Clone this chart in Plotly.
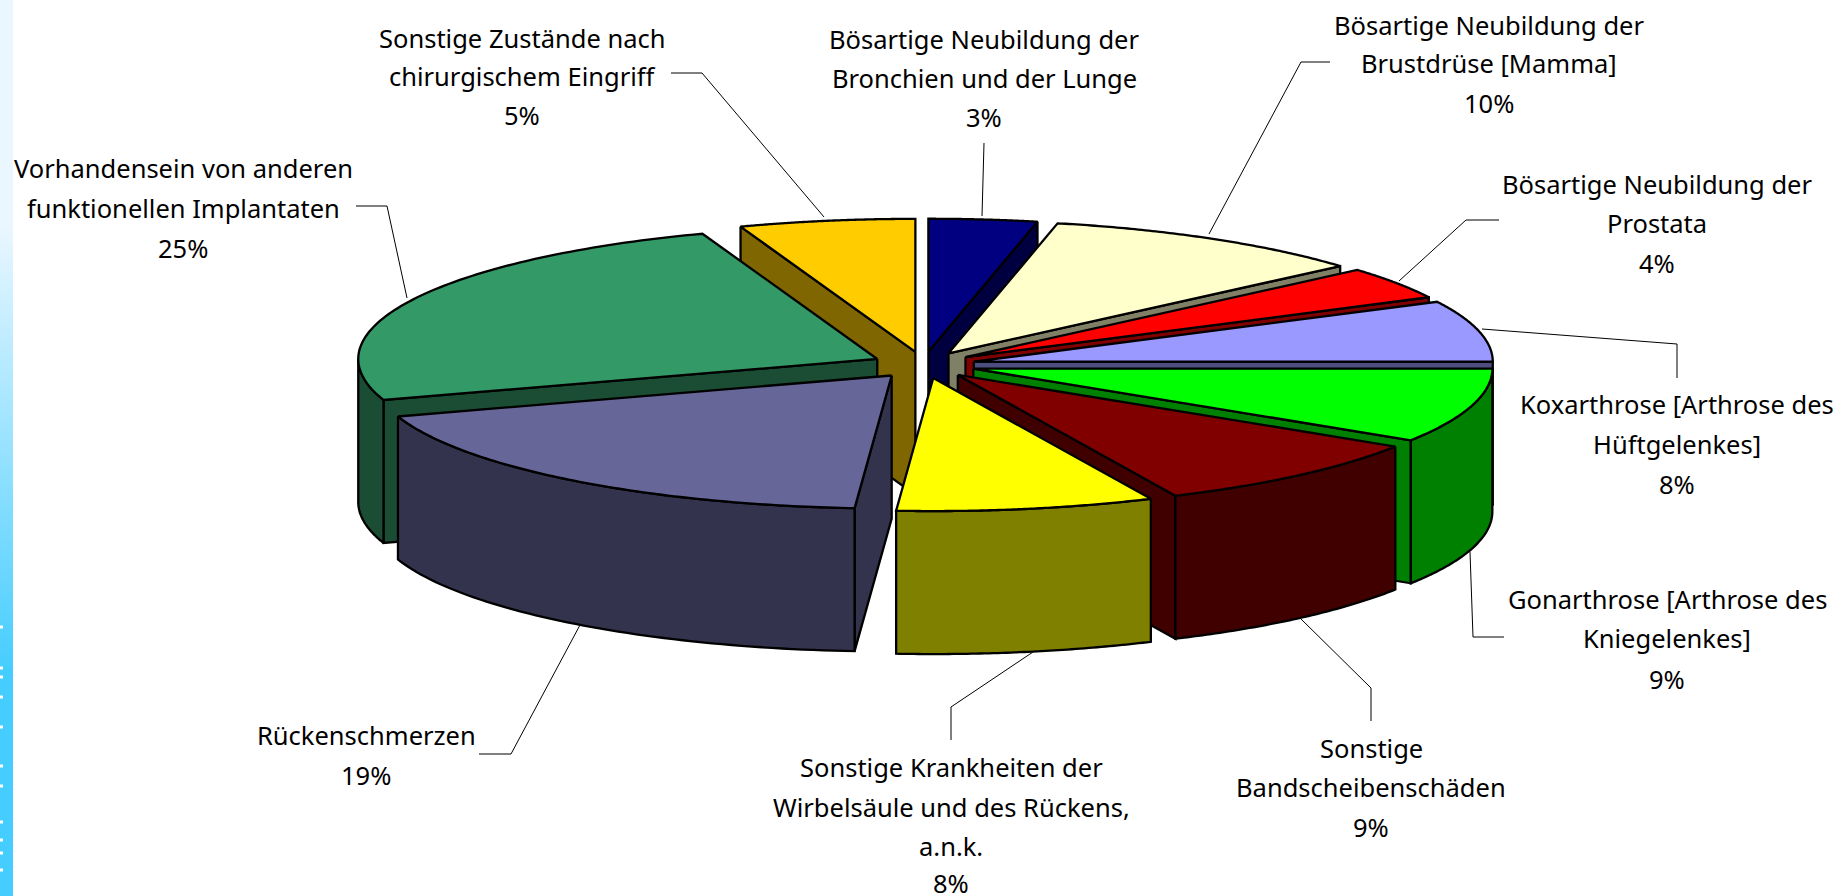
import numpy as np
import plotly.graph_objects as go

# ---- data ----
categories = ["Bösartige Neubildung der Bronchien und der Lunge",
              "Bösartige Neubildung der Brustdrüse [Mamma]",
              "Bösartige Neubildung der Prostata",
              "Koxarthrose [Arthrose des Hüftgelenkes]",
              "Gonarthrose [Arthrose des Kniegelenkes]",
              "Sonstige Bandscheibenschäden",
              "Sonstige Krankheiten der Wirbelsäule und des Rückens, a.n.k.",
              "Rückenschmerzen",
              "Vorhandensein von anderen funktionellen Implantaten",
              "Sonstige Zustände nach chirurgischem Eingriff"]
values = [3, 10, 4, 8, 9, 9, 8, 19, 25, 5]
top_colors = ["#000080", "#FFFFCC", "#FF0000", "#9999FF", "#00FF00",
              "#800000", "#FFFF00", "#666699", "#339966", "#FFCC00"]
side_colors = ["#000040", "#808066", "#800000", "#4D4D80", "#008000",
               "#400000", "#808000", "#33334D", "#1A4D33", "#806600"]
label_lines = [["Bösartige Neubildung der", "Bronchien und der Lunge"],
               ["Bösartige Neubildung der", "Brustdrüse [Mamma]"],
               ["Bösartige Neubildung der", "Prostata"],
               ["Koxarthrose [Arthrose des", "Hüftgelenkes]"],
               ["Gonarthrose [Arthrose des", "Kniegelenkes]"],
               ["Sonstige", "Bandscheibenschäden"],
               ["Sonstige Krankheiten der", "Wirbelsäule und des Rückens,", "a.n.k."],
               ["Rückenschmerzen"],
               ["Vorhandensein von anderen", "funktionellen Implantaten"],
               ["Sonstige Zustände nach", "chirurgischem Eingriff"]]
label_centers = [984, 1489, 1657, 1677, 1667, 1371, 951, 366, 183, 522]
label_line_y = [[39, 78, 117], [25, 63, 103], [184, 223, 263], [404, 444, 484],
                [599, 638, 679], [748, 787, 827], [767, 807, 846, 883],
                [735, 775], [168, 208, 248], [38, 76, 115]]
leaders = [[(984, 143), (982, 216)],
           [(1330, 62), (1301, 62), (1209, 234)],
           [(1499, 220), (1466, 220), (1399, 281)],
           [(1482, 329), (1677, 344), (1677, 378)],
           [(1470, 552), (1473, 637), (1504, 637)],
           [(1300, 618), (1371, 688), (1371, 721)],
           [(1033, 652), (951, 707), (951, 740)],
           [(580, 625), (511, 754), (479, 754)],
           [(407, 298), (387, 206), (356, 206)],
           [(824, 217), (702, 73), (671, 73)]]
strip_marks_y = [627, 668, 677, 697, 727, 766, 786, 822, 840, 853, 870]

# ---- pie geometry (pie radius = 1 along each axis of the ellipse) ----
W, H = 1841, 896
CX, CY, RX, RY = 923.5, 365.0, 519.0, 133.0
DEPTH = 143.0 / RY
EXPLODE = 0.10
BACK_WARP = np.radians(2.2)   # the rear half of the disc is drawn slightly spread out
FRONT_WARP = np.radians(0.5)  # and the front slightly turned
FONT = "Noto Sans"


def ux(px):
    return (px - CX) / RX


def uy(py):
    return (py - CY) / RY


def warp(a):
    a = np.asarray(a, dtype=float)
    c = np.cos(a)
    back = np.sign(np.sin(a)) * BACK_WARP * np.sqrt(np.abs(np.sin(2 * a)))
    front = FRONT_WARP * c ** 2
    return a + np.where(c > 0, back, front)


edges = np.cumsum([0] + values) / sum(values) * 2 * np.pi
fig = go.Figure()

# background strip
fig.add_trace(go.Heatmap(x=[ux(3.25), ux(9.75)], y=[uy(H * 0.25), uy(H * 0.75)], z=[[0, 0], [1, 1]],
                         zsmooth="best", showscale=False, hoverinfo="skip",
                         colorscale=[[0, "#EAF7FF"], [1, "#45CDFF"]]))
fig.add_trace(go.Scatter(x=[ux(1.5)] * len(strip_marks_y), y=[uy(v) for v in strip_marks_y],
                         mode="markers", marker=dict(color="white", size=3, symbol="square"),
                         hoverinfo="skip", showlegend=False))

for pts in leaders:
    fig.add_trace(go.Scatter(x=[ux(p[0]) for p in pts], y=[uy(p[1]) for p in pts],
                             mode="lines", line=dict(color="black", width=1),
                             hoverinfo="skip", showlegend=False))


def poly(xs, ys, color):
    fig.add_trace(go.Scatter(x=list(xs) + [xs[0]], y=list(ys) + [ys[0]], mode="lines",
                             fill="toself", fillcolor=color,
                             line=dict(color="black", width=2.3, simplify=False),
                             hoverinfo="skip", showlegend=False))


mids = (edges[:-1] + edges[1:]) / 2
order = np.argsort(-np.cos(mids))
for i in order:
    a0, a1 = edges[i], edges[i + 1]
    ox = EXPLODE * np.sin(mids[i])
    oy = -EXPLODE * np.cos(mids[i])
    # radial faces that show below the top surface
    for a in (a0, a1):
        ex, ey = np.sin(a), -np.cos(a)
        ix, iy = np.sin(mids[i]), -np.cos(mids[i])
        cross_here = ex * iy - ey * ix
        cross_down = ex * DEPTH
        if abs(ex) > 1e-6 and cross_here * cross_down < 0:
            w = warp(a)
            px, py = ox + np.sin(w), oy - np.cos(w)
            poly([ox, px, px, ox], [oy, py, py + DEPTH, oy + DEPTH], side_colors[i])
    # outer wall
    lo, hi = max(a0, np.pi / 2), min(a1, 3 * np.pi / 2)
    if hi > lo:
        t = warp(np.linspace(lo, hi, 60))
        xs = ox + np.sin(t)
        ys = oy - np.cos(t)
        poly(np.r_[xs, xs[::-1]], np.r_[ys, ys[::-1] + DEPTH], side_colors[i])
    # top surface
    t = warp(np.linspace(a0, a1, 90))
    poly(np.r_[ox, ox + np.sin(t)], np.r_[oy, oy - np.cos(t)], top_colors[i])

annotations = []
for cat, val, lines, cx, ys in zip(categories, values, label_lines, label_centers, label_line_y):
    for text, y in zip(lines + [f"{val}%"], ys):
        annotations.append(dict(x=ux(cx), y=uy(y), xref="x", yref="y", text=text,
                                showarrow=False, xanchor="center", yanchor="middle",
                                font=dict(family=FONT, size=25.5, color="black")))

fig.update_layout(width=W, height=H, margin=dict(l=0, r=0, t=0, b=0),
                  paper_bgcolor="white", plot_bgcolor="white", showlegend=False,
                  annotations=annotations,
                  xaxis=dict(range=[ux(0), ux(W)], visible=False, fixedrange=True),
                  yaxis=dict(range=[uy(H), uy(0)], visible=False, fixedrange=True))
fig.write_html("out.html", config=dict(displayModeBar=False),
               post_script="document.body.style.margin='0';document.body.style.overflow='hidden';")
